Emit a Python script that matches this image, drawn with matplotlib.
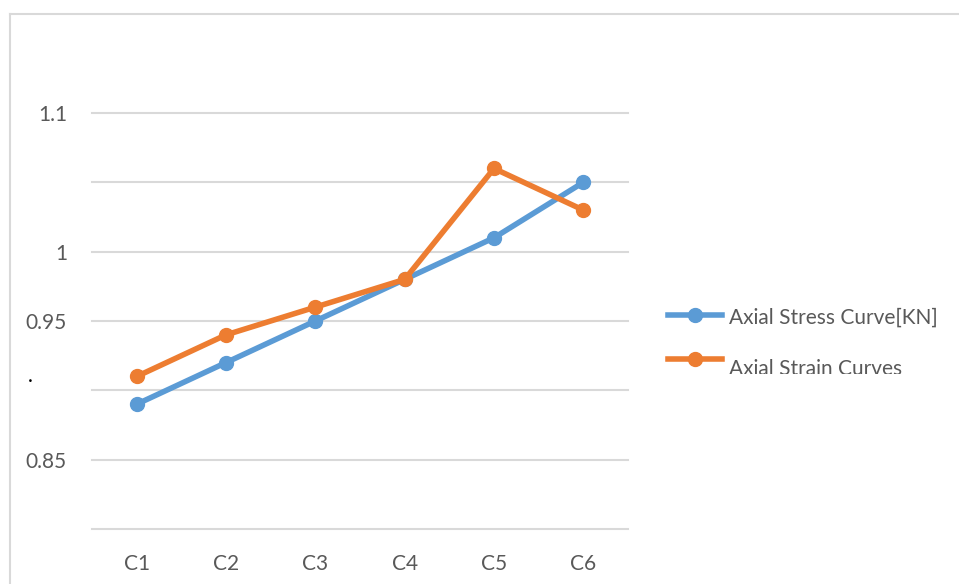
import matplotlib.pyplot as plt
from matplotlib.lines import Line2D
from matplotlib.patches import Rectangle

# ------------------------------------------------------------
# Chart data
# ------------------------------------------------------------

categories = ["C1", "C2", "C3", "C4", "C5", "C6"]

stress_values = [0.89, 0.92, 0.95, 0.98, 1.01, 1.05]

strain_values = [0.91, 0.94, 0.96, 0.98, 1.06, 1.03]

grid_levels = [0.8, 0.85, 0.9, 0.95, 1.0, 1.05, 1.1]

# labels shown on the value axis (some levels carry no label)
tick_levels = [1.1, 1.0, 0.95, 0.85]
tick_texts = ["1.1", "1", "0.95", "0.85"]

series_names = ["Axial Stress Curve[KN]", "Axial Strain Curves"]

BLUE = "#5B9BD5"
ORANGE = "#ED7D31"
GRID = "#D9D9D9"
TEXT = "#595959"

FONT_SIZE = 15

plt.rcParams["font.family"] = ["Lato", "DejaVu Sans"]

W, H = 959, 584

fig = plt.figure(figsize=(W / 100, H / 100), dpi=100)

# chart area outline (left and top edges only visible)
fig.add_artist(Line2D([10 / W, 10 / W], [0, 1 - 14 / H],
                      transform=fig.transFigure, color=GRID, lw=1.5))
fig.add_artist(Line2D([10 / W, 1], [1 - 14 / H, 1 - 14 / H],
                      transform=fig.transFigure, color=GRID, lw=1.5))

ax = fig.add_axes([92 / W, 55 / H, 536 / W, (529 - 113) / H])

ax.set_xlim(-0.5, len(categories) - 0.5)
ax.set_ylim(0.8, 1.1)

for level in grid_levels:
    ax.axhline(level, color=GRID, lw=1.5, zorder=1, clip_on=False)

x = range(len(categories))

ax.plot(x, stress_values, color=BLUE, lw=4, marker="o",
        markersize=10, zorder=3, clip_on=False)

ax.plot(x, strain_values, color=ORANGE, lw=4, marker="o",
        markersize=10, zorder=3, clip_on=False)

for spine in ax.spines.values():
    spine.set_visible(False)

ax.set_xticks(list(x))
ax.set_xticklabels(categories, fontsize=FONT_SIZE, color=TEXT)
ax.tick_params(axis="x", length=0, pad=18)

ax.set_yticks(tick_levels)
ax.set_yticklabels(tick_texts, fontsize=FONT_SIZE, color=TEXT)
ax.tick_params(axis="y", length=0, pad=18)

# stray dot beside the 0.9 level
fig.text(30 / W, 1 - 376 / H, ".", fontsize=FONT_SIZE, color="black",
         ha="center", va="center")

# ------------------------------------------------------------
# Legend (drawn by hand, lower entry is cut off)
# ------------------------------------------------------------

# (line row, text row, colour)
legend_rows = [(315, 318, BLUE), (359, 369, ORANGE)]

for (line_y, text_y, color), name in zip(legend_rows, series_names):

    fy = 1 - line_y / H

    fig.add_artist(Line2D([668 / W, 722 / W], [fy, fy],
                          transform=fig.transFigure, color=color,
                          lw=4))

    fig.add_artist(Line2D([695 / W], [fy], transform=fig.transFigure,
                          color=color, marker="o", markersize=10,
                          lw=0))

    fig.text(729 / W, 1 - text_y / H, name, fontsize=FONT_SIZE,
             color=TEXT, ha="left", va="center")

# white band hiding the lower part of the second legend entry
fig.add_artist(Rectangle((650 / W, 1 - 396 / H), 300 / W, 22 / H,
                         transform=fig.transFigure, facecolor="white",
                         edgecolor="none", zorder=10))

fig.savefig("out.png", dpi=100)
